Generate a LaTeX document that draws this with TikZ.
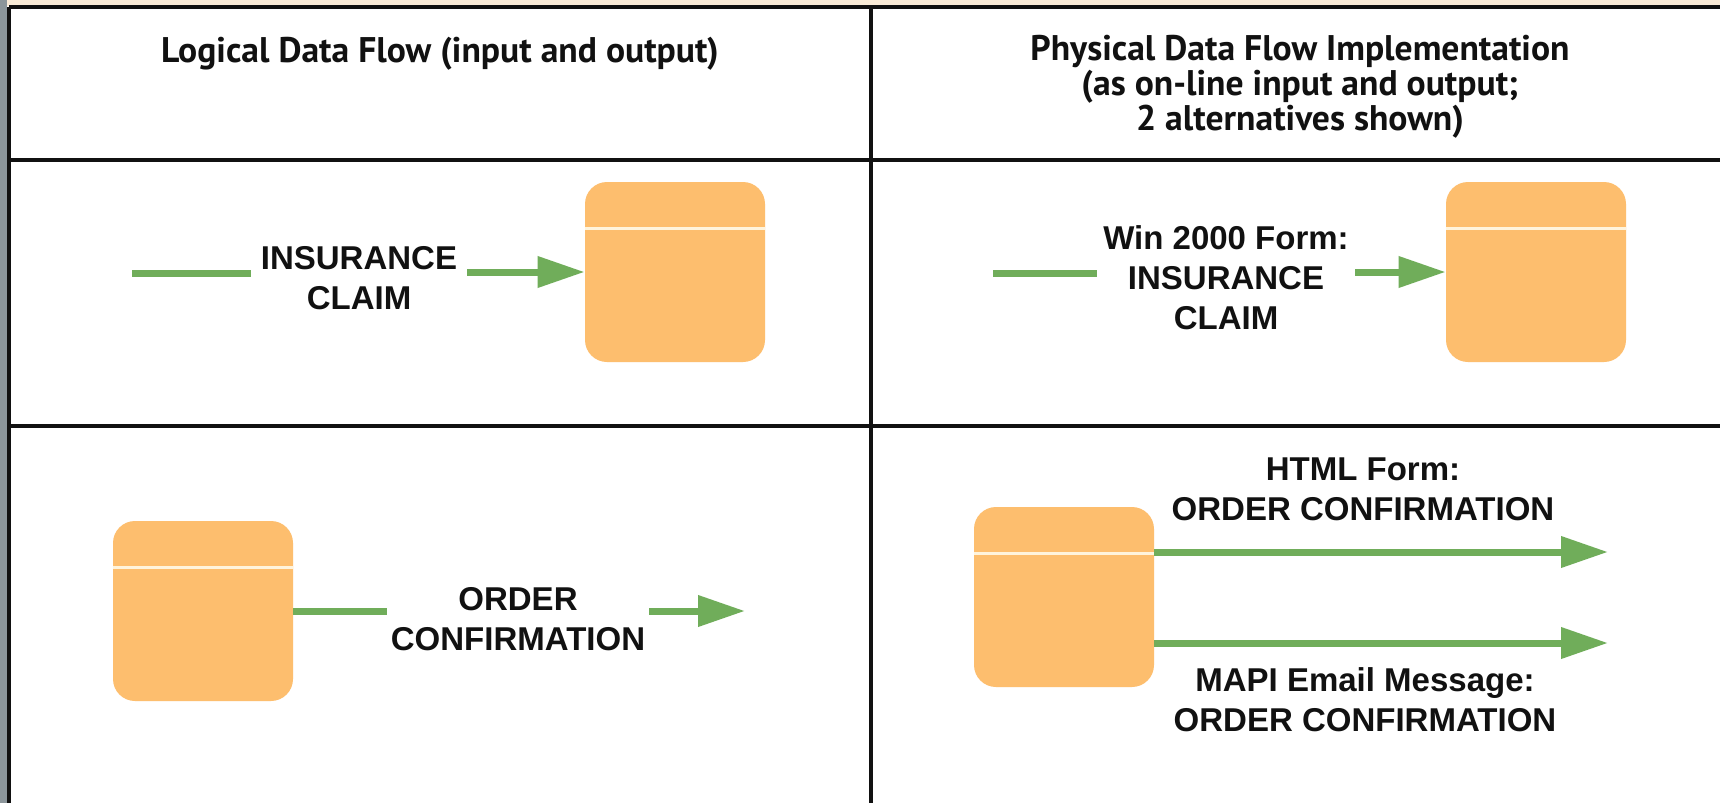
\documentclass[tikz,border=0pt]{standalone}
\usepackage{fontspec}
\setmainfont{Liberation Sans}
\newfontfamily\headfont{PT Sans}
\usetikzlibrary{arrows.meta,positioning,calc}
\definecolor{ink}{HTML}{111111}
\definecolor{flowC}{HTML}{70AD5A}
\definecolor{storeC}{HTML}{FDBE6E}
\definecolor{sepC}{HTML}{FFF4DC}
\definecolor{topC}{HTML}{FAEBD7}
\definecolor{sideC}{HTML}{8C969B}
\tikzset{
  >={Triangle[length=23.5pt,width=15pt]},
  grid/.style={draw=ink,line width=1.75pt},
  colhead/.style={font=\headfont\bfseries\fontsize{17.8}{14.8}\selectfont,text=ink,align=center},
  flowlab/.style={font=\bfseries\fontsize{16.5}{20}\selectfont,text=ink,align=center,inner xsep=3pt},
  flow/.style={draw=flowC,line width=3.5pt},
  store/.style={fill=storeC,draw=none,rounded corners=11pt,minimum width=90pt,
    minimum height=90pt,inner sep=0pt},
  storesep/.style={draw=sepC,line width=1.5pt},
}
\begin{document}
\begin{tikzpicture}[x=0.5pt,y=-0.5pt]

\fill[white] (0,0) rectangle (1720,803);
\useasboundingbox (0,0) rectangle (1720,803);
\fill[topC] (0,0) rectangle (1720,6);
\fill[sideC] (0,0) rectangle (7,803);

% ================= TABLE =================
\draw[grid] (9,7) -- (1720,7);
\draw[grid] (9,7) -- (9,803);
\draw[grid] (9,160) -- (1720,160);
\draw[grid] (9,426) -- (1720,426);
\draw[grid] (871,7) -- (871,803);

\node[colhead] (hL) at (440,54) {Logical Data Flow (input and output)};
\node[colhead] (hR) at (1300,87) {Physical Data Flow Implementation\\(as on-line input and output;\\2 alternatives shown)};

% ================= STORES =================
\node[store] (sL1) at (675,272) {};
\node[store] (sR1) at (1536,272) {};
\node[store] (sL2) at (203,611) {};
\node[store] (sR2) at (1064,597) {};
\foreach \s in {sL1,sR1,sL2,sR2}
  \draw[storesep] ([yshift=-23.5pt]\s.north west) -- ([yshift=-23.5pt]\s.north east);

% ================= ROW 1 =================
\coordinate (inL) at (132,273);
\node[flowlab,inner xsep=5pt] (fL1) at (359,278) {INSURANCE\\CLAIM};
\draw[flow] (inL) -- (inL -| fL1.west);
\draw[flow,->] (fL1.east |- sL1.west) -- (sL1.west);

\coordinate (inR) at (993,273);
\node[flowlab] (fR1) at (1226,278) {Win 2000 Form:\\INSURANCE\\CLAIM};
\draw[flow] (inR) -- (inR -| fR1.west);
\draw[flow,->] (fR1.east |- sR1.west) -- (sR1.west);

% ================= ROW 2 =================
\coordinate (outL) at (745,611);
\node[flowlab,inner xsep=2pt] (fL2) at (518,619) {ORDER\\CONFIRMATION};
\draw[flow] (sL2.east) -- (sL2.east -| fL2.west);
\draw[flow,->] (fL2.east |- outL) -- (outL);

\coordinate (outH) at (1608,552);
\coordinate (outM) at (1608,643);
\node[flowlab] (fH) at (1363,489) {HTML Form:\\ORDER CONFIRMATION};
\node[flowlab] (fM) at (1365,700) {MAPI Email Message:\\ORDER CONFIRMATION};
\draw[flow,->] (sR2.east |- outH) -- (outH);
\draw[flow,->] (sR2.east |- outM) -- (outM);

\end{tikzpicture}
\end{document}
